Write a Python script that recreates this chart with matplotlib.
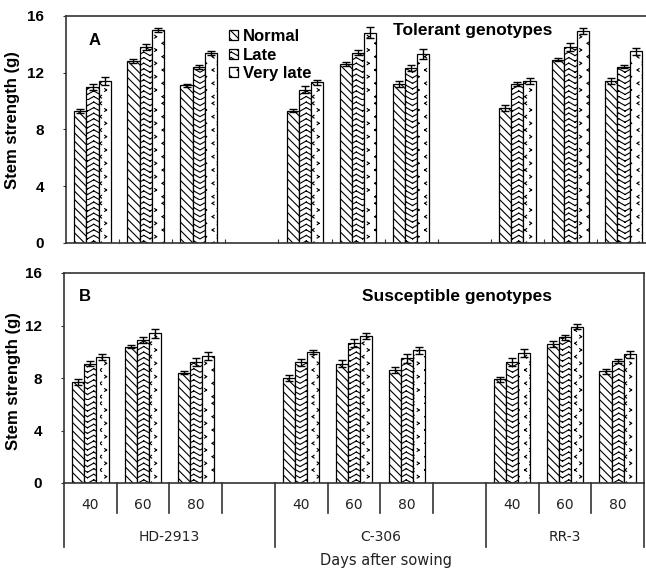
import warnings
warnings.filterwarnings("ignore")
import numpy as np
import matplotlib
matplotlib.use("Agg")
import matplotlib.pyplot as plt
import matplotlib.hatch as mhatch
from matplotlib.path import Path

# ---------------- data ----------------
genotypes = ["HD-2913", "C-306", "RR-3"]
days = ["40", "60", "80"]
series = ["Normal", "Late", "Very late"]

# Panel A: tolerant genotypes (order: HD-2913 40,60,80 | C-306 40,60,80 | RR-3 40,60,80)
tol_normal = [9.3, 12.8, 11.1, 9.3, 12.6, 11.2, 9.5, 12.9, 11.4]
tol_late = [11.0, 13.8, 12.4, 10.8, 13.4, 12.3, 11.2, 13.8, 12.4]
tol_vlate = [11.4, 15.0, 13.4, 11.3, 14.8, 13.3, 11.4, 14.9, 13.5]
tol_err_normal = [0.15, 0.15, 0.1, 0.1, 0.15, 0.2, 0.2, 0.1, 0.2]
tol_err_late = [0.2, 0.2, 0.15, 0.25, 0.2, 0.2, 0.15, 0.25, 0.1]
tol_err_vlate = [0.25, 0.15, 0.15, 0.2, 0.4, 0.35, 0.2, 0.2, 0.25]

# Panel B: susceptible genotypes
sus_normal = [7.7, 10.4, 8.4, 8.0, 9.1, 8.6, 7.9, 10.6, 8.5]
sus_late = [9.1, 10.9, 9.2, 9.2, 10.7, 9.5, 9.2, 11.1, 9.3]
sus_vlate = [9.6, 11.4, 9.7, 10.0, 11.2, 10.1, 9.9, 11.9, 9.8]
sus_err_normal = [0.2, 0.15, 0.1, 0.2, 0.25, 0.25, 0.2, 0.2, 0.2]
sus_err_late = [0.2, 0.25, 0.3, 0.25, 0.3, 0.35, 0.3, 0.2, 0.15]
sus_err_vlate = [0.25, 0.35, 0.3, 0.15, 0.25, 0.25, 0.3, 0.2, 0.25]

yticks = [0, 4, 8, 12, 16]

# ---------------- custom hatches (segments only, so nothing gets filled) ----------------
class ZigzagHatch(mhatch.HatchPatternBase):
    def __init__(self, hatch, density):
        self.num_rows = int(hatch.count('z') * density)
        self.teeth = 8
        self.nseg = 2 * self.teeth
        self.num_vertices = self.num_rows * self.nseg * 2

    def set_vertices_and_codes(self, vertices, codes):
        n = self.num_rows
        xs = np.linspace(0, 1, self.nseg + 1)
        amp = 0.035
        k = 0
        for i in range(n):
            y0 = i / n
            ys = y0 + amp * (np.arange(self.nseg + 1) % 2)
            for s in range(self.nseg):
                vertices[k] = (xs[s], ys[s])
                vertices[k + 1] = (xs[s + 1], ys[s + 1])
                codes[k] = Path.MOVETO
                codes[k + 1] = Path.LINETO
                k += 2


class MarkHatch(mhatch.HatchPatternBase):
    def __init__(self, hatch, density):
        c = hatch.count('k')
        self.ncols = 8 if c else 0
        self.nrows = 15 if c else 0
        self.num_vertices = self.ncols * self.nrows * 4

    def set_vertices_and_codes(self, vertices, codes):
        k = 0
        w, h = 0.016, 0.014
        for r in range(self.nrows):
            for c in range(self.ncols):
                x0 = (c + 0.5 * (r % 2)) / self.ncols
                y0 = (r + 0.5) / self.nrows
                sgn = 1 if r % 2 == 0 else -1
                tip = (x0 - sgn * w * 0.2, y0)
                vertices[k] = (x0 + sgn * w, y0 + h)
                vertices[k + 1] = tip
                vertices[k + 2] = (x0 + sgn * w, y0 - h)
                vertices[k + 3] = tip
                codes[k] = Path.MOVETO
                codes[k + 1] = Path.LINETO
                codes[k + 2] = Path.MOVETO
                codes[k + 3] = Path.LINETO
                k += 4


mhatch._hatch_types.append(ZigzagHatch)
mhatch._hatch_types.append(MarkHatch)

plt.rcParams['font.family'] = ['Liberation Sans', 'DejaVu Sans']
plt.rcParams['hatch.linewidth'] = 0.8
plt.rcParams['hatch.color'] = '#222222'

hatches = ['\\\\\\\\', 'zzz', 'k']

fig = plt.figure(figsize=(6.46, 5.71), dpi=100)

slot = 53.1
axA = fig.add_axes([66 / 646, 1 - 243 / 571, 580 / 646, (243 - 15.7) / 571])
axB = fig.add_axes([64 / 646, 1 - 483 / 571, 580 / 646, 210 / 571])

centers = [0.5, 1.5, 2.5, 4.5, 5.5, 6.5, 8.5, 9.5, 10.5]
bw = 0.23
line_col = '#333333'


def draw_bars(ax, vals, errs):
    for j, (v, e, lab) in enumerate(zip(vals, errs, series)):
        xs = [c + (j - 1) * bw for c in centers]
        ax.bar(xs, v, width=bw, color='white', edgecolor='black',
               linewidth=0.9, hatch=hatches[j], label=lab, zorder=2)
        ax.errorbar(xs, v, yerr=e, fmt='none', ecolor='black',
                    elinewidth=1.0, capsize=3, capthick=1.0, zorder=3)


draw_bars(axA, [tol_normal, tol_late, tol_vlate],
          [tol_err_normal, tol_err_late, tol_err_vlate])
draw_bars(axB, [sus_normal, sus_late, sus_vlate],
          [sus_err_normal, sus_err_late, sus_err_vlate])

for ax in (axA, axB):
    ax.set_ylim(0, 16)
    ax.set_yticks(yticks)
    ax.set_yticklabels([str(t) for t in yticks], fontsize=11, fontweight='bold')
    ax.tick_params(axis='y', direction='out', length=2, pad=14, color=line_col)
    ax.set_ylabel("Stem strength (g)", fontsize=12, fontweight='bold')
    for s in ax.spines.values():
        s.set_color(line_col)
        s.set_linewidth(1.2)

# Panel A
axA.set_xlim(0, 580 / slot)
axA.spines['right'].set_visible(False)
axA.set_xticks([1, 2, 3, 4, 5, 6, 7, 8, 9, 10])
axA.set_xticklabels([])
axA.tick_params(axis='x', direction='in', length=3, color=line_col)
axA.yaxis.set_label_coords(-0.0793, 0.54)
axA.text(0.05, 0.893, "A", transform=axA.transAxes, fontsize=12,
         fontweight='bold', ha='center', va='center')
axA.text(0.702, 0.933, "Tolerant genotypes", transform=axA.transAxes,
         fontsize=12.5, fontweight='bold', ha='center', va='center')
leg = axA.legend(loc='upper left', bbox_to_anchor=(0.281, 0.94),
                 frameon=False, borderaxespad=0, borderpad=0,
                 handlelength=0.55, handleheight=0.55, handletextpad=0.3,
                 labelspacing=0.2, prop={'size': 12, 'weight': 'bold'})

# Panel B
axB.set_xlim(0, 11)
axB.set_xticks([])
axB.yaxis.set_label_coords(-0.0741, 0.486)
axB.text(0.036, 0.890, "B", transform=axB.transAxes, fontsize=12,
         fontweight='bold', ha='center', va='center')
axB.text(0.678, 0.886, "Susceptible genotypes", transform=axB.transAxes,
         fontsize=12.5, fontweight='bold', ha='center', va='center')

tr = axB.get_xaxis_transform()
for xb in [1, 2, 3, 5, 6, 7, 9, 10]:
    axB.plot([xb, xb], [0, -0.143], transform=tr, clip_on=False,
             color=line_col, lw=1.2)
for xb in [0, 4, 8, 11]:
    axB.plot([xb, xb], [0, -0.305], transform=tr, clip_on=False,
             color=line_col, lw=1.2)

for i, c in enumerate(centers):
    axB.text(c, -0.105, days[i % 3], transform=tr, ha='center', va='center',
             fontsize=10, family='DejaVu Sans', color='#222222')
for g, gx in zip(genotypes, [2, 6, 9.5]):
    axB.text(gx, -0.257, g, transform=tr, ha='center', va='center',
             fontsize=10, family='DejaVu Sans', color='#222222')

fig.text(386 / 646, 1 - 560 / 571, "Days after sowing", ha='center',
         va='center', fontsize=10.5, family='DejaVu Sans', color='#222222')

fig.savefig("out.png", dpi=100)
